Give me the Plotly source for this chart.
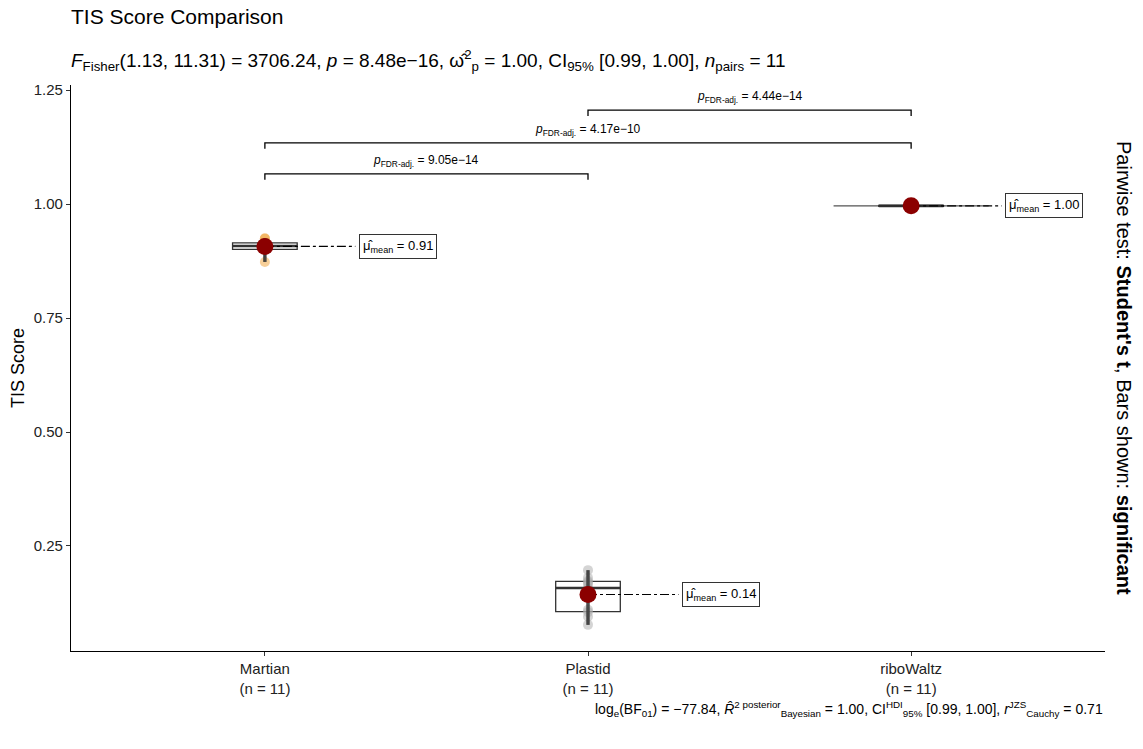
import numpy as np
import plotly.graph_objects as go

# TIS scores per tool (11 paired samples each)
groups = ["Martian", "Plastid", "riboWaltz"]
martian = [0.873, 0.899, 0.900, 0.902, 0.905, 0.908, 0.912, 0.914, 0.915, 0.924, 0.925]
plastid = [0.077, 0.095, 0.105, 0.110, 0.150, 0.158, 0.165, 0.170, 0.173, 0.180, 0.197]
ribowaltz = [0.993, 0.994, 0.995, 0.995, 0.996, 0.996, 0.996, 0.997, 0.997, 0.998, 0.999]
scores = [martian, plastid, ribowaltz]

# pairwise comparisons (group index a, group index b, adjusted p-value label)
pairs = [(0, 1, "9.05e−14"), (0, 2, "4.17e−10"), (1, 2, "4.44e−14")]

point_colors = ["rgba(240,160,50,0.5)", "rgba(170,170,170,0.5)", "rgba(90,90,90,0.5)"]
font = "Liberation Sans, Arial, Helvetica, sans-serif"

fig = go.Figure()
positions = [1, 2, 3]

for pos, name, vals, pc in zip(positions, groups, scores, point_colors):
    v = np.array(vals)
    # raw observations
    fig.add_trace(go.Scatter(x=[pos] * len(v), y=v, mode="markers",
                             marker=dict(size=10, color=pc, line=dict(width=0)),
                             showlegend=False, hoverinfo="y"))
    # range of observations
    fig.add_trace(go.Scatter(x=[pos, pos], y=[v.min(), v.max()], mode="lines",
                             line=dict(color="rgba(60,60,60,0.9)", width=3.5),
                             showlegend=False, hoverinfo="skip"))
    # box
    fig.add_trace(go.Box(x=[pos] * len(v), y=v, width=0.2, boxpoints=False,
                         quartilemethod="linear", whiskerwidth=0,
                         fillcolor="rgba(255,255,255,0)",
                         line=dict(color="#333333", width=1.3),
                         showlegend=False, hoverinfo="skip"))
    med = float(np.median(v))
    fig.add_trace(go.Scatter(x=[pos - 0.1, pos + 0.1], y=[med, med], mode="lines",
                             line=dict(color="#333333", width=2.6),
                             showlegend=False, hoverinfo="skip"))

# flat violin outline for the near-constant group
rw = np.array(ribowaltz)
fig.add_trace(go.Scatter(x=[3 - 0.24, 3 + 0.24], y=[rw.mean(), rw.mean()], mode="lines",
                         line=dict(color="rgba(40,40,40,0.8)", width=1.2),
                         showlegend=False, hoverinfo="skip"))

# means with labels
for pos, vals in zip(positions, scores):
    m = float(np.mean(vals))
    fig.add_trace(go.Scatter(x=[pos, pos + 0.28], y=[m, m], mode="lines",
                             line=dict(color="black", width=1.1, dash="dashdot"),
                             showlegend=False, hoverinfo="skip"))
    fig.add_trace(go.Scatter(x=[pos], y=[m], mode="markers",
                             marker=dict(size=17, color="#8B0000"),
                             showlegend=False, hoverinfo="y"))
    fig.add_annotation(x=pos + 0.29, y=m, xanchor="left", yanchor="middle",
                       text=f"μ̂<sub>mean</sub> = {m:.2f}", showarrow=False,
                       font=dict(family=font, size=13, color="black"),
                       bgcolor="white", bordercolor="#333333", borderwidth=1,
                       borderpad=3)

# significance brackets
levels = [1.066, 1.134, 1.206]
drop = 0.013
for (a, b, ptxt), yl in zip(pairs, levels):
    xa, xb = positions[a], positions[b]
    fig.add_trace(go.Scatter(x=[xa, xa, xb, xb], y=[yl - drop, yl, yl, yl - drop],
                             mode="lines", line=dict(color="black", width=1.3),
                             showlegend=False, hoverinfo="skip"))
    fig.add_annotation(x=(xa + xb) / 2, y=yl, yanchor="bottom", yshift=3,
                       text=f"<i>p</i><sub>FDR-adj.</sub> = {ptxt}", showarrow=False,
                       font=dict(family=font, size=12, color="black"))

# title, subtitle, caption, side note
fig.add_annotation(xref="paper", yref="paper", x=0, y=1, xanchor="left", yanchor="bottom",
                   yshift=55, xshift=-2, text="TIS Score Comparison", showarrow=False,
                   font=dict(family=font, size=21, color="black"))
fig.add_annotation(xref="paper", yref="paper", x=0, y=1, xanchor="left", yanchor="bottom",
                   yshift=9, xshift=-2,
                   text=("<i>F</i><sub>Fisher</sub>(1.13, 11.31) = 3706.24, <i>p</i> = 8.48e−16, "
                         "ω̂<sup>2</sup><sub>p</sub> = 1.00, CI<sub>95%</sub> [0.99, 1.00], "
                         "<i>n</i><sub>pairs</sub> = 11"),
                   showarrow=False, font=dict(family=font, size=19, color="black"))
fig.add_annotation(xref="paper", yref="paper", x=1, y=0, xanchor="right", yanchor="top",
                   yshift=-46,
                   text=("log<sub>e</sub>(BF<sub>01</sub>) = −77.84, "
                         "<i>R̂</i><sup>2 posterior</sup><sub>Bayesian</sub> = 1.00, "
                         "CI<sup>HDI</sup><sub>95%</sub> [0.99, 1.00], "
                         "<i>r</i><sup>JZS</sup><sub>Cauchy</sub> = 0.71"),
                   showarrow=False, font=dict(family=font, size=14, color="black"))
fig.add_annotation(xref="paper", yref="paper", x=1, y=0.5, xanchor="left", yanchor="middle",
                   xshift=6, textangle=90,
                   text="Pairwise test: <b>Student's t</b>, Bars shown: <b>significant</b>",
                   showarrow=False, font=dict(family=font, size=20, color="black"))

fig.update_layout(
    width=1143, height=749,
    margin=dict(l=71, r=38, t=85, b=98),
    paper_bgcolor="white", plot_bgcolor="white",
    font=dict(family=font, color="black"),
    showlegend=False,
    xaxis=dict(range=[0.4, 3.6], tickmode="array", tickvals=positions,
               ticktext=[f"{g}<br>(n = {len(s)})" for g, s in zip(groups, scores)],
               showgrid=False, zeroline=False, showline=True, linecolor="black",
               linewidth=1.2, ticks="outside", ticklen=4, tickcolor="#333333",
               tickfont=dict(size=15, color="#222222")),
    yaxis=dict(range=[0.0197, 1.261], tickvals=[0.25, 0.5, 0.75, 1.0, 1.25],
               ticktext=["0.25", "0.50", "0.75", "1.00", "1.25"],
               showgrid=False, zeroline=False, showline=True, linecolor="black",
               linewidth=1.2, ticks="outside", ticklen=4, tickcolor="#333333",
               tickfont=dict(size=15, color="#222222"),
               title=dict(text="TIS Score", font=dict(size=18), standoff=4)),
)

fig.write_html("out.html")
